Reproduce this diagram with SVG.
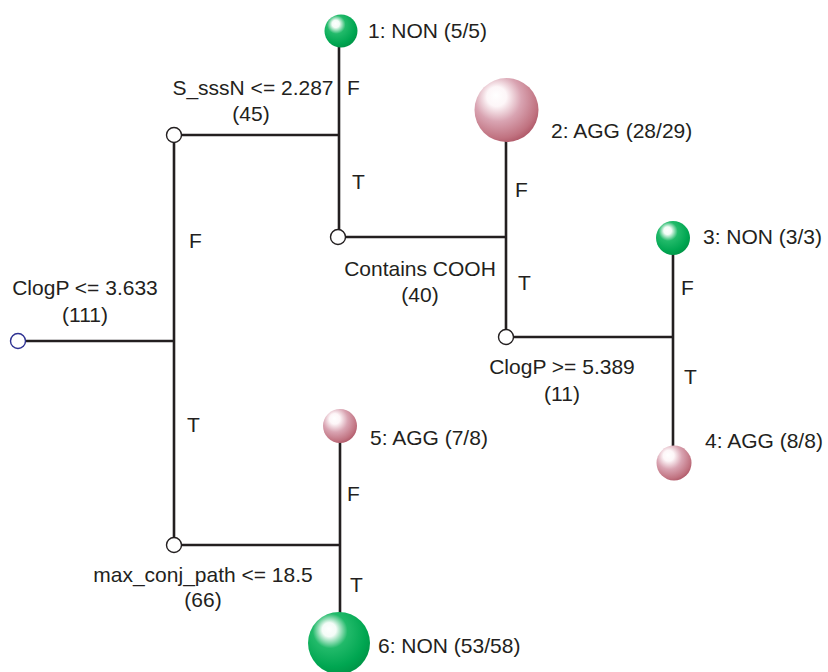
<svg xmlns="http://www.w3.org/2000/svg" width="828" height="672" viewBox="0 0 828 672">
<defs>
<radialGradient id="gGreen" cx="0.4" cy="0.36" r="0.7" fx="0.33" fy="0.27">
<stop offset="0" stop-color="#ffffff"/>
<stop offset="0.16" stop-color="#f4fcf7"/>
<stop offset="0.4" stop-color="#22ba6a"/>
<stop offset="0.78" stop-color="#00a651"/>
<stop offset="1" stop-color="#009245"/>
</radialGradient>
<radialGradient id="gPink" cx="0.4" cy="0.36" r="0.7" fx="0.33" fy="0.27">
<stop offset="0" stop-color="#ffffff"/>
<stop offset="0.22" stop-color="#fdf6f8"/>
<stop offset="0.52" stop-color="#d9a4b2"/>
<stop offset="0.85" stop-color="#c07280"/>
<stop offset="1" stop-color="#ab5262"/>
</radialGradient>
<style>
text{font-family:"Liberation Sans",Arial,Helvetica,sans-serif;font-size:21px;fill:#231f20}
.m{text-anchor:middle}
.ln{stroke:#231f20;stroke-width:2.6;fill:none}
.dec{fill:#ffffff;stroke:#231f20;stroke-width:1.4}
.root{fill:#ffffff;stroke:#2e3192;stroke-width:1.4}
.g{fill:url(#gGreen)}
.p{fill:url(#gPink)}
</style>
</defs>
<g id="connectors">
<path class="ln" d="M26,341 H174 M174,135 V545 M174,135 H339 M339,40 V237 H506 M506,120 V337 H673 M673,245 V455 M174,545 H340 M340,430 V620"/>
<text x="347" y="95">F</text>
<text x="352" y="189">T</text>
<text x="515" y="197">F</text>
<text x="518" y="290">T</text>
<text x="681" y="295">F</text>
<text x="684" y="384">T</text>
<text x="189" y="248">F</text>
<text x="187" y="432">T</text>
<text x="347" y="501">F</text>
<text x="350" y="592">T</text>
</g>
<g id="n0">
<circle class="root" cx="18" cy="341" r="7.5"/>
<text class="m" x="85" y="295">ClogP &lt;= 3.633</text>
<text class="m" x="85" y="322">(111)</text>
</g>
<g id="nS">
<circle class="dec" cx="174" cy="135" r="7.5"/>
<text class="m" x="253" y="95">S_sssN &lt;= 2.287</text>
<text class="m" x="251" y="121">(45)</text>
</g>
<g id="nC">
<circle class="dec" cx="338" cy="237" r="7.5"/>
<text class="m" x="420" y="276">Contains COOH</text>
<text class="m" x="420" y="302">(40)</text>
</g>
<g id="nP">
<circle class="dec" cx="506" cy="337" r="7.5"/>
<text class="m" x="562" y="374">ClogP &gt;= 5.389</text>
<text class="m" x="562" y="401">(11)</text>
</g>
<g id="nM">
<circle class="dec" cx="174" cy="545" r="7.5"/>
<text class="m" x="203" y="582">max_conj_path &lt;= 18.5</text>
<text class="m" x="203" y="607">(66)</text>
</g>
<g id="leaf1">
<circle class="g" cx="341" cy="31" r="16.5"/>
<text x="368" y="38">1: NON (5/5)</text>
</g>
<g id="leaf2">
<circle class="p" cx="506.5" cy="110" r="32"/>
<text x="551" y="138">2: AGG (28/29)</text>
</g>
<g id="leaf3">
<circle class="g" cx="673" cy="238" r="17"/>
<text x="703" y="244">3: NON (3/3)</text>
</g>
<g id="leaf4">
<circle class="p" cx="674" cy="463" r="17.5"/>
<text x="705" y="448">4: AGG (8/8)</text>
</g>
<g id="leaf5">
<circle class="p" cx="340" cy="426" r="17"/>
<text x="370" y="445">5: AGG (7/8)</text>
</g>
<g id="leaf6">
<circle class="g" cx="339" cy="643" r="31"/>
<text x="378" y="653">6: NON (53/58)</text>
</g>
</svg>
